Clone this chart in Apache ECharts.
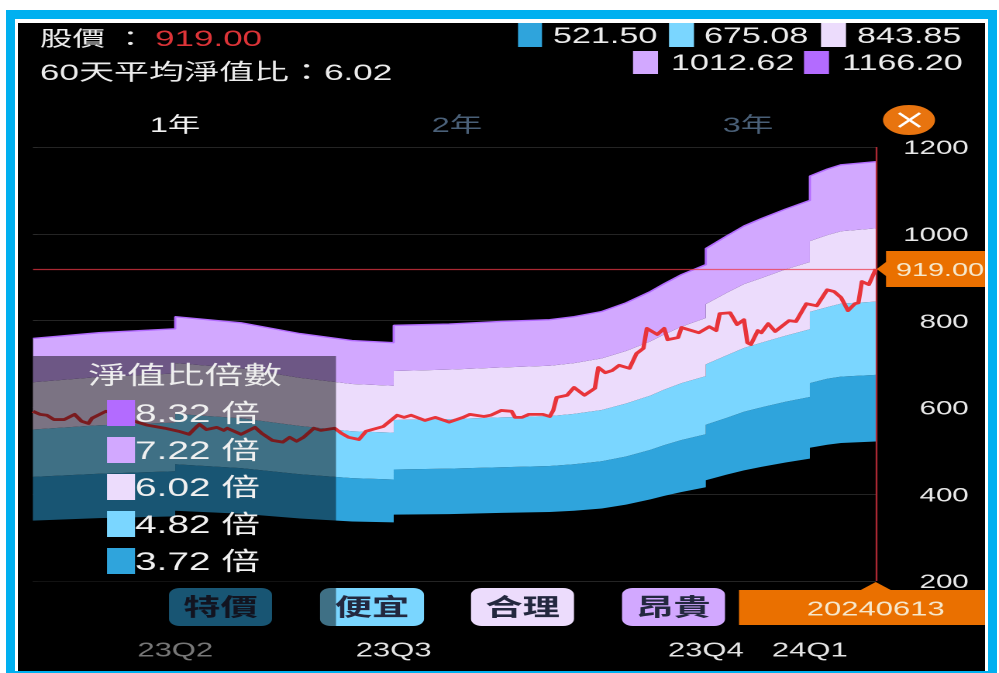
<!DOCTYPE html>
<html>
<head>
<meta charset="utf-8">
<title>淨值比河流圖</title>
<script src="https://cdn.jsdelivr.net/npm/echarts@6/dist/echarts.min.js"></script>
<style>
  html, body { margin: 0; width: 999px; height: 673px; overflow: hidden; background: #fff; }
  .frame { position: absolute; left: 6px; top: 10px; width: 991px; height: 663px; background: #00b0f0; }
  .edge { position: absolute; left: 15px; top: 19px; width: 973px; height: 652px; background: #fff; }
  .screen { position: absolute; left: 18px; top: 23px; width: 967px; height: 648px; background: #000; }
  /* the phone capture is wider than tall: everything is laid out narrow and stretched sideways */
  #chart { position: absolute; left: 0; top: 0; width: 644.516px; height: 673px; transform: scaleX(1.55); transform-origin: 0 0; }
</style>
</head>
<body>
<div class="frame"></div><div class="edge"></div><div class="screen"></div>
<div id="chart"></div>
<script>
// Trading-session positions at which the river bands were sampled; repeats mark the quarterly book-value steps.
const bandSessions = [0, 19, 41, 41, 60, 77, 92, 104, 104, 120, 135, 149, 156, 164, 171, 178, 182, 187, 194, 194, 200, 205, 210, 217, 224, 224, 229, 233, 243];
const band372 = [339, 345, 349, 362, 355, 344, 337, 335, 353, 354, 357, 359, 362, 367, 376, 388, 396, 405, 416, 432, 445, 455, 463, 473, 482, 507, 514, 518, 521.50];
const band482 = [440, 447, 453, 469, 460, 446, 437, 434, 457, 459, 462, 465, 469, 476, 487, 502, 513, 525, 538, 560, 576, 590, 600, 613, 624, 656, 666, 671, 675.08];
const band602 = [549, 559, 565, 585, 575, 557, 545, 542, 571, 573, 577, 580, 585, 594, 609, 627, 641, 656, 672, 699, 720, 737, 749, 765, 780, 820, 831, 839, 843.85];
const band722 = [658, 670, 678, 702, 690, 668, 654, 650, 684, 687, 692, 696, 702, 713, 730, 752, 768, 786, 806, 838, 864, 884, 898, 918, 935, 983, 997, 1006, 1012.62];
const band832 = [759, 772, 781, 809, 795, 770, 754, 749, 789, 792, 798, 802, 809, 821, 841, 867, 885, 906, 929, 966, 995, 1018, 1035, 1057, 1077, 1133, 1149, 1159, 1166.20];

// Closing price, sampled at its turning points.
const priceSessions = [0, 2, 4, 6, 9, 12, 14, 16, 17, 21, 25, 30, 33, 38, 42, 45, 47, 48, 50, 53, 55, 56, 60, 64, 66, 69, 72, 74, 76, 78, 81, 83, 87, 89, 91, 94, 96, 101, 105, 107, 109, 113, 116, 120, 124, 126, 130, 132, 135, 138, 139, 141, 143, 147, 149, 150, 151, 154, 156, 159, 162, 163, 165, 167, 169, 172, 174, 176, 177, 180, 182, 183, 186, 187, 192, 195, 197, 198, 201, 203, 205, 206, 207, 209, 210, 212, 214, 218, 220, 223, 226, 229, 231, 233, 235, 237, 238, 239, 241, 243];
const priceValues = [591, 584, 582, 572, 572, 584, 568, 563, 575, 591, 582, 566, 559, 552, 545, 538, 554, 561, 549, 554, 547, 552, 538, 554, 540, 524, 520, 531, 522, 531, 552, 547, 552, 540, 531, 526, 545, 556, 582, 577, 582, 570, 577, 566, 577, 584, 579, 582, 593, 591, 577, 577, 584, 584, 579, 593, 623, 628, 646, 628, 644, 692, 680, 685, 697, 690, 724, 736, 782, 768, 782, 756, 761, 784, 772, 786, 777, 816, 818, 791, 802, 749, 745, 777, 772, 793, 775, 800, 798, 839, 834, 871, 867, 853, 823, 839, 841, 890, 883, 919];

const quarterSessions = [41, 104, 194, 224];
const quarterLabels = ['23Q2', '23Q3', '23Q4', '24Q1'];
const yearTabs = ['1年', '2年', '3年'];
const multiples = ['8.32', '7.22', '6.02', '4.82', '3.72'];
const gradeLabels = ['特價', '便宜', '合理', '昂貴'];
const lastPrice = 919.00;
const averageRatio = '6.02';
const lastDate = '20240613';

const COLORS = { c372: '#2fa4dc', c482: '#7ad6ff', c602: '#ecdcfc', c722: '#d2a8ff', c832: '#b36bff' };
const ORANGE = '#ea7000';
const FONT = '"Liberation Sans","Noto Sans CJK TC",sans-serif';
const S = 1.55;
const X = px => px / S;
const TEXT_DY = 2; // middle-aligned CJK text rides high, nudge it down

const lastSession = bandSessions[bandSessions.length - 1];

// One filled polygon between two band edges, projected through the chart's own axes.
const bandSeries = (name, lower, upper, color) => ({
  name, type: 'custom', coordinateSystem: 'cartesian2d', silent: true, z: 2, clip: false,
  encode: { x: 0, y: [1, 2] },
  data: bandSessions.map((s, i) => [s, lower[i], upper[i]]),
  renderItem: (params, api) => {
    if (params.dataIndex !== 0) return null;
    const top = bandSessions.map((s, i) => api.coord([s, upper[i]]));
    const bottom = bandSessions.map((s, i) => api.coord([s, lower[i]])).reverse();
    return { type: 'polygon', shape: { points: top.concat(bottom) }, style: { fill: color }, silent: true };
  }
});

const chart = echarts.init(document.getElementById('chart'), null, { devicePixelRatio: 2 });
chart.setOption({
  animation: false,
  backgroundColor: 'transparent',
  textStyle: { fontFamily: FONT },
  grid: { left: X(33), right: X(124), top: 147, bottom: 92, containLabel: false },
  xAxis: {
    type: 'value', min: 0, max: lastSession,
    splitLine: { show: false }, axisLine: { show: false }, axisTick: { show: false },
    axisLabel: {
      customValues: quarterSessions,
      formatter: v => quarterLabels[quarterSessions.indexOf(v)] || '',
      color: '#e4e4e4', fontSize: 20, margin: 60, fontFamily: FONT
    }
  },
  yAxis: {
    type: 'value', position: 'right', min: 200, max: 1200, interval: 200,
    axisLine: { show: false },
    axisTick: { show: true, length: 3, lineStyle: { color: '#2a2a2a' } },
    splitLine: { show: true, lineStyle: { color: '#242424', width: 1 } },
    axisLabel: {
      margin: 60, align: 'right',
      formatter: v => '{tick|' + v + '}',
      rich: { tick: { color: '#e8e8e8', fontSize: 19, fontFamily: FONT, padding: [4, 0, 0, 0] } }
    }
  },
  series: [
    bandSeries('3.72', band372, band482, COLORS.c372),
    bandSeries('4.82', band482, band602, COLORS.c482),
    bandSeries('6.02', band602, band722, COLORS.c602),
    bandSeries('7.22', band722, band832, COLORS.c722),
    {
      name: '8.32', type: 'line', symbol: 'none', silent: true, z: 3,
      data: bandSessions.map((s, i) => [s, band832[i]]),
      lineStyle: { color: COLORS.c832, width: 1.4 }
    },
    {
      name: '股價', type: 'line', symbol: 'none', z: 5,
      data: priceSessions.map((s, i) => [s, priceValues[i]]),
      lineStyle: { color: '#e8343a', width: 2.8, join: 'round' },
      markLine: {
        silent: true, symbol: 'none', label: { show: false },
        lineStyle: { color: 'rgba(235,55,70,0.72)', width: 1.2, type: 'solid' },
        data: [{ yAxis: lastPrice }, { xAxis: lastSession }]
      }
    }
  ]
});

// Text helper for everything drawn around the plot.
const label = (text, x, y, size, fill, align, z, weight) => ({
  type: 'text', z: z || 80, silent: true,
  style: {
    text, x: X(x), y: y + TEXT_DY, fill, align: align || 'left', verticalAlign: 'middle',
    textAlign: align || 'left', textVerticalAlign: 'middle',
    font: (weight || 'normal') + ' ' + size + 'px ' + FONT
  }
});
const box = (x0, y0, x1, y1, fill, z, r) => ({
  type: 'rect', z: z || 80, silent: true,
  shape: { x: X(x0), y: y0, width: X(x1 - x0), height: y1 - y0, r: r || 0 },
  style: { fill }
});

const priceTip = chart.convertToPixel({ gridIndex: 0 }, [lastSession, lastPrice]);
const axisTip = chart.convertToPixel({ gridIndex: 0 }, [lastSession, 200]);
const tipX = priceTip[0] * S, tipY = priceTip[1], baseY = axisTip[1];
const pts = list => list.map(p => [X(p[0]), p[1]]);

const elements = [
  // header
  label('股價 ：', 40, 38, 21, '#ececec'),
  label(lastPrice.toFixed(2), 155, 38, 22.6, '#dc3438'),
  label('60天平均淨值比：' + averageRatio, 40, 72, 22.6, '#ececec'),
  // current-value legend
  box(518, 23, 542, 47, COLORS.c372), label(band372[band372.length - 1].toFixed(2), 553, 35, 22, '#ececec'),
  box(669, 23, 694, 47, COLORS.c482), label(band482[band482.length - 1].toFixed(2), 704, 35, 22, '#ececec'),
  box(821, 23, 846, 47, COLORS.c602), label(band602[band602.length - 1].toFixed(2), 857, 35, 22, '#ececec'),
  box(633, 51, 658, 74, COLORS.c722), label(band722[band722.length - 1].toFixed(2), 671, 62, 22, '#ececec'),
  box(804, 51, 829, 74, COLORS.c832), label(band832[band832.length - 1].toFixed(2), 842, 62, 22, '#ececec'),
  // range tabs
  label(yearTabs[0], 175, 124, 21, '#f2f2f2', 'center'),
  label(yearTabs[1], 457, 124, 21, '#4a6078', 'center'),
  label(yearTabs[2], 748, 124, 21, '#4a6078', 'center'),
  // close button
  { type: 'ellipse', z: 80, silent: true, shape: { cx: X(909), cy: 120, rx: X(26), ry: 15 }, style: { fill: '#e8740f' } },
  { type: 'line', z: 81, silent: true, shape: { x1: X(899), y1: 113, x2: X(920), y2: 127 }, style: { stroke: '#fff', lineWidth: 2 } },
  { type: 'line', z: 81, silent: true, shape: { x1: X(920), y1: 113, x2: X(899), y2: 127 }, style: { stroke: '#fff', lineWidth: 2 } },
  // grade buttons sit under the translucent panel
  box(169, 588, 272, 626, COLORS.c372, 50, 7), label(gradeLabels[0], 220.5, 607, 24, '#23283f', 'center', 51, 'bold'),
  box(320, 588, 424, 626, COLORS.c482, 50, 7), label(gradeLabels[1], 372, 607, 24, '#23283f', 'center', 51, 'bold'),
  box(471, 588, 574, 626, COLORS.c602, 50, 7), label(gradeLabels[2], 522.5, 607, 24, '#23283f', 'center', 51, 'bold'),
  box(622, 588, 725, 626, COLORS.c722, 50, 7), label(gradeLabels[3], 673.5, 607, 24, '#23283f', 'center', 51, 'bold'),
  // translucent multiples panel
  box(33, 356, 336, 671, 'rgba(0,0,0,0.48)', 60),
  label('淨值比倍數', 185, 375, 25, '#eeeeee', 'center', 70),
  // price tag on the right edge
  { type: 'polygon', z: 80, silent: true,
    shape: { points: pts([[tipX + 1, tipY], [886, tipY - 7], [886, tipY - 18], [985, tipY - 18], [985, tipY + 18], [886, tipY + 18], [886, tipY + 7]]) },
    style: { fill: ORANGE } },
  label(lastPrice.toFixed(2), 940, tipY, 18.6, '#f6e8cc', 'center', 81),
  // date tag under the cursor
  { type: 'polygon', z: 80, silent: true,
    shape: { points: pts([[tipX, baseY + 1], [tipX + 15, baseY + 9], [985, baseY + 9], [985, baseY + 44], [739, baseY + 44], [739, baseY + 9], [tipX - 15, baseY + 9]]) },
    style: { fill: ORANGE } },
  label(lastDate, tipX, baseY + 27, 20, '#f6e8cc', 'center', 81)
];

// Panel rows, one swatch and multiple for each band edge.
const rowColors = [COLORS.c832, COLORS.c722, COLORS.c602, COLORS.c482, COLORS.c372];
const rowTops = [400, 437, 474, 511, 548];
multiples.forEach((m, i) => {
  elements.push(box(107, rowTops[i], 135, rowTops[i] + 26, rowColors[i], 70));
  elements.push(label(m + ' 倍', 135, rowTops[i] + 13, 25, '#f0f0f0', 'left', 70));
});

chart.setOption({ graphic: { elements } });
</script>
</body>
</html>
